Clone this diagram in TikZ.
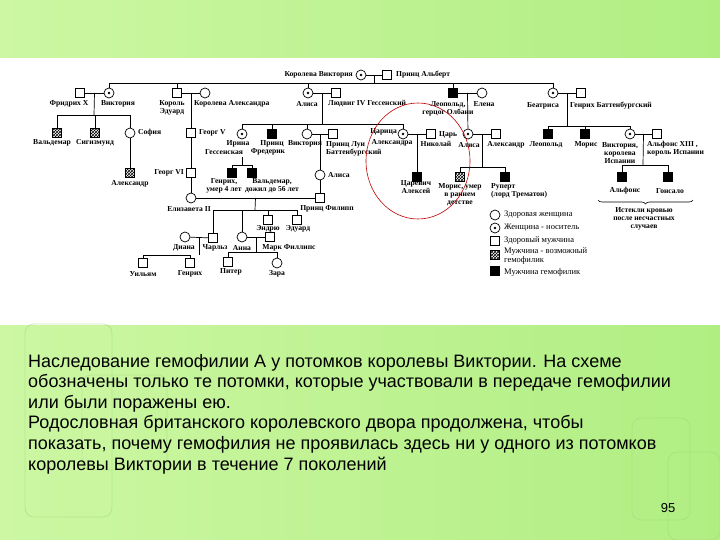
\documentclass[tikz,border=0pt]{standalone}
\usepackage{fontspec}
\setmainfont{Liberation Serif}
\newfontfamily\capfont{Liberation Sans}
\usetikzlibrary{calc, patterns, decorations.pathreplacing}
\definecolor{bgl}{RGB}{205,247,163}
\definecolor{bgr}{RGB}{176,238,130}
\definecolor{deco}{RGB}{160,215,120}
\tikzstyle{fem} = [circle, draw=black, fill=white, line width=0.7pt, minimum size=10pt, inner sep=0pt]
\tikzstyle{car} = [fem, path picture={\fill[black] (path picture bounding box.center) circle (1.3pt);}]
\tikzstyle{mal} = [rectangle, draw=black, fill=white, line width=0.7pt, minimum size=9pt, inner sep=0pt]
\tikzstyle{hem} = [mal, fill=black]
\tikzstyle{poshem} = [mal, pattern=crosshatch]
\tikzstyle{lbl} = [font=\fontsize{7.6}{8}\selectfont\bfseries, inner sep=0pt, align=center]
\tikzstyle{lgd} = [font=\fontsize{8.5}{7.5}\selectfont, inner sep=0pt, align=left, anchor=west]
\tikzstyle{link} = [line width=0.7pt]
\tikzstyle{captxt} = [anchor=base west, inner sep=0pt, font=\capfont\fontsize{18}{20}\selectfont]

\begin{document}
\begin{tikzpicture}[x=1pt, y=-1pt]
\useasboundingbox (0,0) rectangle (720,540);
% slide background
\shade[left color=bgl, right color=bgr] (0,0) rectangle (720,58);
\fill[white] (0,58) rectangle (720,325);
\shade[left color=bgl, right color=bgr] (0,325) rectangle (720,540);
\draw[deco, rounded corners=9pt, line width=0.8pt, opacity=0.5] (25,324) rectangle (112,517);
\draw[deco, rounded corners=9pt, line width=0.8pt, opacity=0.4] (82,375) rectangle (167,470);
\draw[deco, rounded corners=9pt, line width=0.8pt, opacity=0.5] (632,418) rectangle (690,520);
\draw[deco, rounded corners=9pt, line width=0.8pt, opacity=0.5] (668,452) rectangle (720,540);

% generation 1
\node(qv)[car] at (361,75) {};
\node(alb)[mal] at (387,75) {};
\node[lbl, anchor=east] at (353,75) {Королева Виктория};
\node[lbl, anchor=west] at (396,75) {Принц Альберт};

% generation 2
\node(fr3)[mal] at (80,93) {};
\node(vic1)[car] at (109,93) {};
\node(ed7)[mal] at (177,93) {};
\node(alx)[fem] at (205,93) {};
\node(ali1)[car] at (308,93) {};
\node(lud)[mal] at (336,93) {};
\node(leo1)[hem] at (453,93) {};
\node(hel)[fem] at (482,93) {};
\node(bea)[car] at (553,93) {};
\node(hen)[mal] at (581,93) {};
\node[lbl] at (69,104) {Фридрих X};
\node[lbl] at (118,104) {Виктория};
\node[lbl] at (172,108) {Король\\Эдуард};
\node[lbl, anchor=west] at (194,104) {Королева Александра};
\node[lbl] at (307,104) {Алиса};
\node[lbl, anchor=west] at (328,104) {Людвиг IV Гессенский};
\node[lbl] at (448,109) {Леопольд,\\герцог Олбани};
\node[lbl] at (484,104) {Елена};
\node[lbl] at (543,106) {Беатриса};
\node[lbl, anchor=west] at (570,106) {Генрих Баттенбургский};

% generation 3
\node(wal)[poshem] at (57,133) {};
\node(sig)[poshem] at (95,133) {};
\node(sof)[fem] at (130,133) {};
\node(alg)[poshem] at (130,173) {};
\node(g5)[mal] at (191,133) {};
\node(g6)[mal] at (191,173) {};
\node(el2)[fem] at (191,198) {};
\node(iri)[car] at (242,134) {};
\node(fri)[hem] at (272,134) {};
\node(vic2)[fem] at (307,134) {};
\node(lui)[mal] at (333,134) {};
\node(ali3)[fem] at (320,175) {};
\node(phi)[mal] at (320,198) {};
\node(alz)[car] at (403,134) {};
\node(nik)[mal] at (431,134) {};
\node(alk)[hem] at (417,177) {};
\node(ali2)[car] at (468,134) {};
\node(alx2)[mal] at (496,134) {};
\node(mor)[poshem] at (460,177) {};
\node(rup)[hem] at (505,177) {};
\node(leo2)[hem] at (548,134) {};
\node(mau)[hem] at (585,134) {};
\node(vie)[car] at (630,134) {};
\node(a13)[mal] at (657,134) {};
\node(alf)[hem] at (622,177) {};
\node(gon)[hem] at (668,177) {};
\node(hei)[hem] at (232,173) {};
\node(wa2)[hem] at (252,173) {};
\node[lbl] at (52,143) {Вальдемар};
\node[lbl] at (95,143) {Сигизмунд};
\node[lbl, anchor=west] at (138,133) {София};
\node[lbl] at (130,184) {Александр};
\node[lbl, anchor=west] at (199,133) {Георг V};
\node[lbl, anchor=east] at (184,173) {Георг VI};
\node[lbl] at (189,209) {Елизавета II};
\node[lbl] at (238,144) {Ирина};
\node[lbl] at (224,152) {Гессенская};
\node[lbl] at (272,144) {Принц};
\node[lbl] at (268,152) {Фредерик};
\node[lbl] at (305,144) {Виктория};
\node[lbl, anchor=north west, align=left] at (326,141) {Принц Луи\\Баттенбургский};
\node[lbl] at (224,186) {Генрих,\\умер 4 лет};
\node[lbl] at (272,186) {Вальдемар,\\дожил до 56 лет};
\node[lbl, anchor=west] at (328,175) {Алиса};
\node[lbl] at (327,209) {Принц Филипп};
\node[lbl, anchor=east] at (397,132) {Царица};
\node[lbl] at (392,143) {Александра};
\node[lbl, anchor=west] at (439,135) {Царь};
\node[lbl] at (436,144) {Николай};
\node[lbl] at (416,187) {Царевич\\Алексей};
\node[lbl] at (469,145) {Алиса};
\node[lbl] at (506,145) {Александр};
\node[lbl] at (460,195) {Морис, умер\\в раннем\\детстве};
\node[lbl, anchor=north west, align=left] at (491,183) {Руперт\\(лорд Трематон)};
\node[lbl] at (546,145) {Леопольд};
\node[lbl] at (586,145) {Морис};
\node[lbl] at (620,153) {Виктория,\\королева\\Испании};
\node[lbl, anchor=north west, align=left] at (647,141) {Альфонс XIII ,\\король Испании};
\node[lbl] at (625,191) {Альфонс};
\node[lbl] at (670,191) {Гонсало};
\node[lbl] at (644,219) {Истекли кровью\\после несчастных\\случаев};

% generation 4 and 5
\node(cha)[mal] at (213,238) {};
\node(dia)[fem] at (185,237) {};
\node(ann)[fem] at (242,237) {};
\node(mar)[mal] at (270,237) {};
\node(and)[mal] at (268,220) {};
\node(edw)[mal] at (297,220) {};
\node(wil)[mal] at (143,263) {};
\node(har)[mal] at (190,263) {};
\node(pet)[mal] at (228,262) {};
\node(zar)[fem] at (277,263) {};
\node[lbl] at (268,229) {Эндрю};
\node[lbl] at (298,229) {Эдуард};
\node[lbl] at (184,248) {Диана};
\node[lbl] at (215,248) {Чарльз};
\node[lbl] at (242,248) {Анна};
\node[lbl] at (289,248) {Марк Филлипс};
\node[lbl] at (143,274) {Уильям};
\node[lbl] at (190,274) {Генрих};
\node[lbl] at (231,272) {Питер};
\node[lbl] at (277,274) {Зара};

% legend
\node(kf)[fem] at (495,215) {};
\node(kc)[car] at (495,228) {};
\node(km)[mal] at (495,241) {};
\node(kp)[poshem] at (495,255) {};
\node(kh)[hem] at (495,271) {};
\node[lgd] at (504,215) {Здоровая женщина};
\node[lgd] at (504,228) {Женщина - носитель};
\node[lgd] at (504,241) {Здоровый мужчина};
\node[lgd] at (504,256) {Мужчина - возможный\\гемофилик};
\node[lgd] at (504,272) {Мужчина гемофилик};

% couples and descent lines
\coordinate(s0) at (374,83);
\coordinate(s1) at (94,115);
\coordinate(s2) at (322,124);
\coordinate(s3) at (567,126);
\coordinate(s4) at (482,167);
\coordinate(s5) at (643,165);
\coordinate(s6) at (255,210);
\coordinate(s7) at (199,255);
\coordinate(s8) at (256,252);
\coordinate(ik) at (242,157);
\coordinate(ib) at (242,165);
\begin{scope}[link]
\draw (qv) -- (alb);
\draw ($(qv)!0.5!(alb)$) -- (s0);
\draw (vic1) -- (vic1 |- s0) -- (bea |- s0) -- (bea);
\draw (ed7) -- (ed7 |- s0);
\draw (ali1) -- (ali1 |- s0);
\draw (leo1) -- (leo1 |- s0);
\draw (fr3) -- (vic1);
\draw ($(fr3)!0.5!(vic1)$) -- (s1);
\draw (wal) -- (wal |- s1) -- (sof |- s1) -- (sof);
\draw (sig) -- (sig |- s1);
\draw (sof) -- (alg);
\draw (ed7) -- (alx);
\draw ($(ed7)!0.5!(alx)$) -- (g5);
\draw (g5) -- (g6);
\draw (g6) -- (el2);
\draw (ali1) -- (lud);
\draw ($(ali1)!0.5!(lud)$) -- (s2);
\draw (iri) -- (iri |- s2) -- (alz |- s2) -- (alz);
\draw (fri) -- (fri |- s2);
\draw (vic2) -- (vic2 |- s2);
\draw (ik) -- (ib);
\draw (hei) -- (hei |- ib) -- (wa2 |- ib) -- (wa2);
\draw (vic2) -- (lui);
\draw ($(vic2)!0.5!(lui)$) -- (ali3);
\draw (ali3) -- (phi);
\draw (alz) -- (nik);
\draw ($(alz)!0.5!(nik)$) -- (alk);
\draw (leo1) -- (hel);
\draw ($(leo1)!0.5!(hel)$) -- (ali2);
\draw (ali2) -- (alx2);
\draw ($(ali2)!0.5!(alx2)$) -- (s4);
\draw (mor) -- (mor |- s4) -- (rup |- s4) -- (rup);
\draw (bea) -- (hen);
\draw ($(bea)!0.5!(hen)$) -- (s3);
\draw (leo2) -- (leo2 |- s3) -- (vie |- s3) -- (vie);
\draw (mau) -- (mau |- s3);
\draw (vie) -- (a13);
\draw ($(vie)!0.5!(a13)$) -- (s5);
\draw (alf) -- (alf |- s5) -- (gon |- s5) -- (gon);
\draw (el2) -- (phi);
\draw ($(el2)!0.5!(phi)$) -- (s6);
\draw (cha) -- (cha |- s6) -- (edw |- s6) -- (edw);
\draw (ann) -- (ann |- s6);
\draw (and) -- (and |- s6);
\draw (dia) -- (cha);
\draw ($(dia)!0.5!(cha)$) -- (s7);
\draw (wil) -- (wil |- s7) -- (har |- s7) -- (har);
\draw (ann) -- (mar);
\draw ($(ann)!0.5!(mar)$) -- (s8);
\draw (pet) -- (pet |- s8) -- (zar |- s8) -- (zar);
\end{scope}
\draw[line width=0.6pt, decorate, decoration={brace, amplitude=4pt}] (693,200) -- (598,200);
% red mark round the tsar's family
\draw[red!75!black, line width=0.6pt] (418,161) ellipse (52 and 58);

% caption
\foreach \t [count=\i] in {{Наследование гемофилии А у потомков королевы Виктории. На схеме},
  {обозначены только те потомки, которые участвовали в передаче гемофилии},
  {или были поражены ею.},
  {Родословная британского королевского двора продолжена, чтобы},
  {показать, почему гемофилия не проявилась здесь ни у одного из потомков},
  {королевы Виктории в течение 7 поколений}}
  \node[captxt] at (28,346.4+20.6*\i) {\t};
\node(pg)[font=\capfont\fontsize{13}{13}\selectfont] at (668,508) {95};
\end{tikzpicture}
\end{document}
